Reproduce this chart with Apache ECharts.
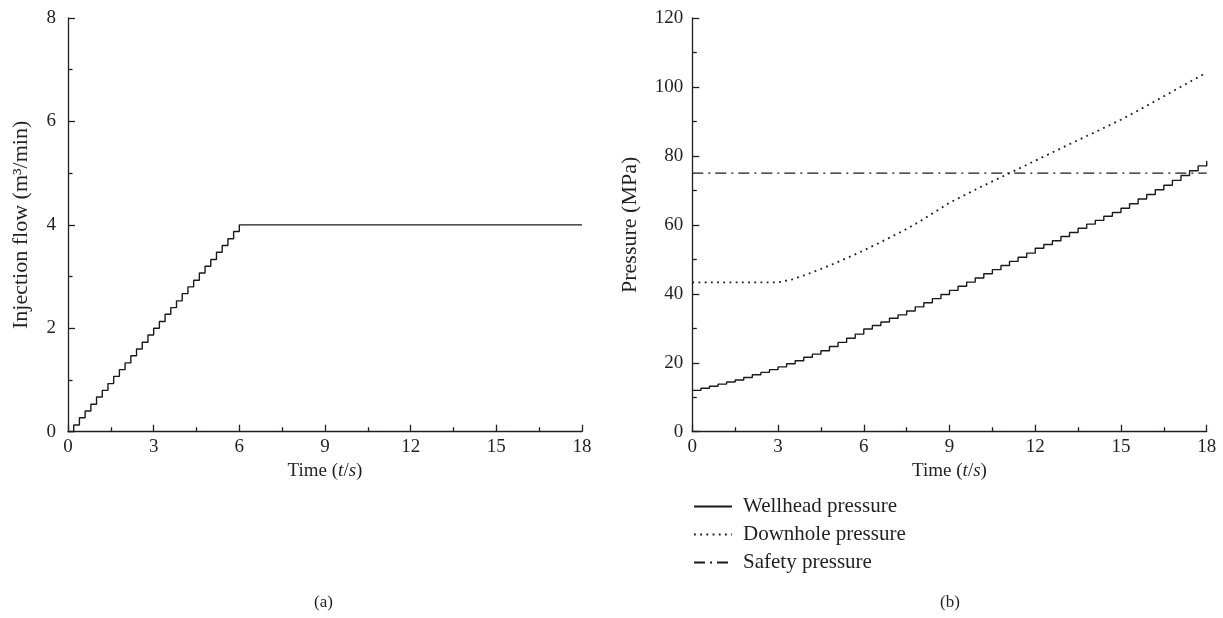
<!DOCTYPE html>
<html>
<head>
<meta charset="utf-8">
<script src="https://cdn.jsdelivr.net/npm/echarts@6/dist/echarts.min.js"></script>
<style>
  html, body { margin: 0; padding: 0; background: #fff; }
  #chart { width: 1223px; height: 618px; }
</style>
</head>
<body>
<div id="chart"></div>
<script>
// (a) injection flow, stepped ramp then constant
const flowTime = [0, 0.2, 0.4, 0.6, 0.8, 1.0, 1.2, 1.4, 1.6, 1.8, 2.0, 2.2, 2.4, 2.6, 2.8, 3.0,
  3.2, 3.4, 3.6, 3.8, 4.0, 4.2, 4.4, 4.6, 4.8, 5.0, 5.2, 5.4, 5.6, 5.8, 6.0, 18];
const flowValue = [0, 0.13, 0.27, 0.40, 0.53, 0.67, 0.80, 0.93, 1.07, 1.20, 1.33, 1.47, 1.60, 1.73, 1.87, 2.00,
  2.13, 2.27, 2.40, 2.53, 2.67, 2.80, 2.93, 3.07, 3.20, 3.33, 3.47, 3.60, 3.73, 3.87, 4.00, 4.00];

// (b) wellhead pressure, stepped
const wellTime = [0, 0.3, 0.6, 0.9, 1.2, 1.5, 1.8, 2.1, 2.4, 2.7, 3.0, 3.3, 3.6, 3.9, 4.2, 4.5, 4.8, 5.1, 5.4, 5.7,
  6.0, 6.3, 6.6, 6.9, 7.2, 7.5, 7.8, 8.1, 8.4, 8.7, 9.0, 9.3, 9.6, 9.9, 10.2, 10.5, 10.8, 11.1, 11.4, 11.7,
  12.0, 12.3, 12.6, 12.9, 13.2, 13.5, 13.8, 14.1, 14.4, 14.7, 15.0, 15.3, 15.6, 15.9, 16.2, 16.5, 16.8, 17.1, 17.4, 17.7, 18.0];
const wellValue = [12.0, 12.6, 13.2, 13.8, 14.4, 15.0, 15.7, 16.5, 17.2, 18.0, 18.8, 19.7, 20.6, 21.6, 22.5, 23.5, 24.7, 25.9, 27.1, 28.3,
  29.8, 30.8, 31.8, 32.9, 33.9, 35.0, 36.2, 37.4, 38.6, 39.8, 41.0, 42.2, 43.4, 44.6, 45.8, 47.0, 48.2, 49.4, 50.6, 51.8,
  53.2, 54.3, 55.4, 56.6, 57.8, 59.0, 60.2, 61.3, 62.5, 63.6, 64.8, 66.1, 67.5, 68.8, 70.2, 71.5, 72.9, 74.3, 75.7, 77.1, 78.5];

// (b) downhole pressure
const downTime = [0, 3, 3.5, 4, 4.5, 5, 5.5, 6, 6.5, 7, 7.5, 8, 8.5, 9, 9.5, 10, 10.5, 11, 11.5, 12,
  12.5, 13, 13.5, 14, 14.5, 15, 15.5, 16, 16.5, 17, 17.5, 18];
const downValue = [43.3, 43.3, 44.2, 45.6, 47.2, 48.9, 50.7, 52.6, 54.6, 56.7, 58.8, 61.2, 63.8, 66.4, 68.5, 70.6, 72.6, 74.6, 76.6, 78.6,
  80.6, 82.6, 84.6, 86.5, 88.5, 90.5, 92.7, 95.0, 97.3, 99.6, 101.9, 104.2];

// (b) safety pressure
const safeTime = [0, 18];
const safeValue = [75, 75];

const xTicks = { min: 0, max: 18, interval: 3 };
const flowAxis = { min: 0, max: 8, interval: 2 };
const pressAxis = { min: 0, max: 120, interval: 20 };

const FONT = 'Liberation Serif';
const INK = '#231f20';

function pairs(xs, ys) { return xs.map((x, i) => [x, ys[i]]); }

function xAxisFor(gridIndex) {
  return {
    type: 'value', gridIndex,
    min: xTicks.min, max: xTicks.max, interval: xTicks.interval,
    name: '{r|Time (}{i|t}{r|/}{i|s}{r|)}',
    nameLocation: 'middle', nameGap: 25,
    nameTextStyle: {
      rich: {
        r: { fontFamily: FONT, fontSize: 19, color: INK },
        i: { fontFamily: FONT, fontSize: 19, color: INK, fontStyle: 'italic' }
      }
    },
    axisLine: { show: true, lineStyle: { color: INK, width: 1.3 } },
    axisTick: { show: true, inside: true, length: 7, lineStyle: { color: INK, width: 1.3 } },
    minorTick: { show: true, splitNumber: 2, length: 4.5, lineStyle: { color: INK, width: 1.3 } },
    axisLabel: { fontFamily: FONT, fontSize: 19, color: INK, margin: 6 },
    splitLine: { show: false }
  };
}

function yAxisFor(gridIndex, spec, name, nameGap, labelMargin) {
  return {
    type: 'value', gridIndex,
    min: spec.min, max: spec.max, interval: spec.interval,
    name, nameLocation: 'middle', nameGap,
    nameTextStyle: { fontFamily: FONT, fontSize: 22, color: INK },
    axisLine: { show: true, lineStyle: { color: INK, width: 1.3 } },
    axisTick: { show: true, inside: true, length: 7, lineStyle: { color: INK, width: 1.3 } },
    minorTick: { show: true, splitNumber: 2, length: 4.5, lineStyle: { color: INK, width: 1.3 } },
    axisLabel: { fontFamily: FONT, fontSize: 19, color: INK, margin: labelMargin },
    splitLine: { show: false }
  };
}

const chart = echarts.init(document.getElementById('chart'), null, { renderer: 'canvas' });

chart.setOption({
  backgroundColor: '#ffffff',
  animation: false,
  grid: [
    { left: 68, top: 18, width: 514, height: 413.7 },
    { left: 692.3, top: 18, width: 514.4, height: 413.7 }
  ],
  xAxis: [xAxisFor(0), xAxisFor(1)],
  yAxis: [
    yAxisFor(0, flowAxis, 'Injection flow (m³/min)', 36, 12),
    yAxisFor(1, pressAxis, 'Pressure (MPa)', 51, 9)
  ],
  legend: {
    orient: 'vertical', left: 693, top: 496, itemGap: 7, padding: 0,
    itemWidth: 38, itemHeight: 14,
    itemStyle: { opacity: 0 },
    textStyle: { fontFamily: FONT, fontSize: 21, color: INK, padding: [0, 0, 0, 6] },
    data: ['Wellhead pressure', 'Downhole pressure', 'Safety pressure']
  },
  series: [
    {
      type: 'line', xAxisIndex: 0, yAxisIndex: 0, step: 'end',
      symbol: 'none', data: pairs(flowTime, flowValue),
      lineStyle: { color: '#1a1a1a', width: 1.4 }
    },
    {
      name: 'Wellhead pressure', type: 'line', xAxisIndex: 1, yAxisIndex: 1, step: 'end',
      symbol: 'none', data: pairs(wellTime, wellValue),
      itemStyle: { color: '#1a1a1a' },
      lineStyle: { color: '#1a1a1a', width: 1.4 }
    },
    {
      name: 'Downhole pressure', type: 'line', xAxisIndex: 1, yAxisIndex: 1,
      symbol: 'none', data: pairs(downTime, downValue),
      itemStyle: { color: '#1a1a1a' },
      lineStyle: { color: '#1a1a1a', width: 1.8, type: [1.8, 4.4] }
    },
    {
      name: 'Safety pressure', type: 'line', xAxisIndex: 1, yAxisIndex: 1,
      symbol: 'none', data: pairs(safeTime, safeValue),
      itemStyle: { color: '#1a1a1a' },
      lineStyle: { color: '#1a1a1a', width: 1.3, type: [11, 5, 2, 5] }
    }
  ],
  graphic: [
    { type: 'text', left: 314, top: 594, style: { text: '(a)', font: '17px "Liberation Serif"', fill: INK } },
    { type: 'text', left: 940, top: 594, style: { text: '(b)', font: '17px "Liberation Serif"', fill: INK } }
  ]
});
</script>
</body>
</html>
